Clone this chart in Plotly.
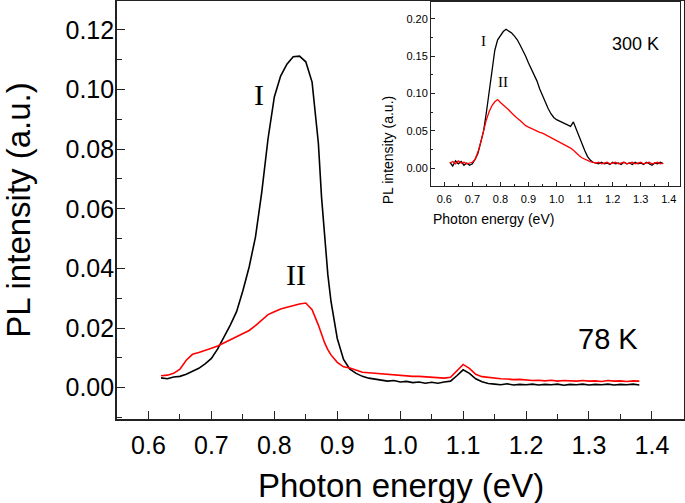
import plotly.graph_objects as go

# 78 K spectra (main panel)
energy_78 = [0.62, 0.63, 0.64, 0.65, 0.66, 0.67, 0.68, 0.69, 0.70, 0.71, 0.72, 0.73, 0.74,
             0.75, 0.76, 0.77, 0.78, 0.79, 0.80, 0.81, 0.82, 0.83, 0.84, 0.85, 0.86, 0.87,
             0.875, 0.88, 0.885, 0.89, 0.90, 0.91, 0.92, 0.93, 0.94, 0.95, 0.96, 0.97, 0.98,
             0.99, 1.00, 1.01, 1.02, 1.03, 1.04, 1.05, 1.06, 1.07, 1.08, 1.09, 1.10, 1.11,
             1.12, 1.13, 1.14, 1.15, 1.16, 1.17, 1.18, 1.19, 1.20, 1.21, 1.22, 1.23, 1.24,
             1.25, 1.26, 1.27, 1.28, 1.29, 1.30, 1.31, 1.32, 1.33, 1.34, 1.35, 1.36, 1.37, 1.38]
pl_78_I = [0.0033, 0.0030, 0.0036, 0.0038, 0.0045, 0.0055, 0.0065, 0.0080, 0.0098, 0.0130,
           0.0168, 0.0210, 0.0255, 0.0325, 0.0405, 0.0505, 0.0655, 0.0835, 0.0975, 0.1045,
           0.1085, 0.1110, 0.1112, 0.1093, 0.1025, 0.0820, 0.0640, 0.0500, 0.0380, 0.0290,
           0.0165, 0.0095, 0.0062, 0.0048, 0.0038, 0.0032, 0.0028, 0.0026, 0.0022, 0.0024,
           0.0019, 0.0021, 0.0017, 0.0019, 0.0015, 0.0018, 0.0015, 0.0019, 0.0022, 0.0040,
           0.0060, 0.0048, 0.0030, 0.0020, 0.0014, 0.0012, 0.0010, 0.0013, 0.0009, 0.0011,
           0.0010, 0.0012, 0.0009, 0.0011, 0.0010, 0.0012, 0.0008, 0.0011, 0.0010, 0.0012,
           0.0009, 0.0011, 0.0010, 0.0012, 0.0009, 0.0011, 0.0010, 0.0012, 0.0009]
pl_78_II = [0.0040, 0.0042, 0.0048, 0.0062, 0.0092, 0.0112, 0.0118, 0.0124, 0.0132, 0.0140,
            0.0150, 0.0160, 0.0170, 0.0180, 0.0192, 0.0208, 0.0228, 0.0245, 0.0255, 0.0264,
            0.0270, 0.0276, 0.0281, 0.0284, 0.0262, 0.0210, 0.0180, 0.0150, 0.0128, 0.0110,
            0.0085, 0.0070, 0.0066, 0.0058, 0.0052, 0.0050, 0.0048, 0.0046, 0.0045, 0.0043,
            0.0042, 0.0040, 0.0038, 0.0038, 0.0037, 0.0035, 0.0033, 0.0032, 0.0035, 0.0058,
            0.0078, 0.0065, 0.0045, 0.0037, 0.0034, 0.0031, 0.0030, 0.0029, 0.0027, 0.0028,
            0.0026, 0.0024, 0.0025, 0.0023, 0.0025, 0.0022, 0.0024, 0.0023, 0.0022, 0.0024,
            0.0022, 0.0023, 0.0021, 0.0024, 0.0022, 0.0023, 0.0021, 0.0023, 0.0022]

# 300 K spectra (inset)
energy_300 = [0.62, 0.63, 0.64, 0.65, 0.66, 0.67, 0.68, 0.69, 0.70, 0.71, 0.72, 0.73, 0.74,
              0.75, 0.76, 0.77, 0.78, 0.79, 0.80, 0.81, 0.82, 0.83, 0.84, 0.85, 0.86, 0.87,
              0.88, 0.89, 0.90, 0.91, 0.92, 0.93, 0.94, 0.95, 0.96, 0.97, 0.98, 0.99, 1.00,
              1.01, 1.02, 1.03, 1.04, 1.05, 1.06, 1.07, 1.08, 1.09, 1.10, 1.11, 1.12, 1.13,
              1.14, 1.15, 1.16, 1.17, 1.18, 1.19, 1.20, 1.21, 1.22, 1.23, 1.24, 1.25, 1.26,
              1.27, 1.28, 1.29, 1.30, 1.31, 1.32, 1.33, 1.34, 1.35, 1.36, 1.37, 1.38]
pl_300_I = [0.008, 0.003, 0.010, 0.006, 0.009, 0.004, 0.007, 0.004, 0.006, 0.012, 0.020,
            0.034, 0.050, 0.075, 0.102, 0.132, 0.158, 0.172, 0.178, 0.183, 0.186, 0.184,
            0.181, 0.177, 0.172, 0.165, 0.158, 0.150, 0.141, 0.133, 0.124, 0.117, 0.106,
            0.097, 0.088, 0.080, 0.073, 0.068, 0.065, 0.063, 0.061, 0.059, 0.057, 0.056,
            0.062, 0.052, 0.044, 0.034, 0.024, 0.016, 0.011, 0.008, 0.007, 0.006, 0.008,
            0.006, 0.007, 0.005, 0.008, 0.006, 0.007, 0.005, 0.008, 0.006, 0.007, 0.005,
            0.008, 0.006, 0.007, 0.005, 0.008, 0.006, 0.004, 0.007, 0.006, 0.008, 0.006]
pl_300_II = [0.007, 0.009, 0.006, 0.010, 0.007, 0.008, 0.006, 0.007, 0.008, 0.012, 0.022,
             0.035, 0.051, 0.065, 0.076, 0.084, 0.089, 0.092, 0.088, 0.085, 0.081, 0.078,
             0.074, 0.070, 0.067, 0.064, 0.060, 0.057, 0.055, 0.053, 0.051, 0.049, 0.048,
             0.047, 0.045, 0.043, 0.041, 0.039, 0.038, 0.036, 0.034, 0.032, 0.029, 0.027,
             0.024, 0.020, 0.017, 0.014, 0.012, 0.010, 0.009, 0.008, 0.007, 0.008, 0.006,
             0.007, 0.008, 0.006, 0.007, 0.008, 0.006, 0.007, 0.008, 0.006, 0.007, 0.008,
             0.006, 0.007, 0.008, 0.006, 0.007, 0.008, 0.006, 0.007, 0.008, 0.006, 0.007]

sans = "Liberation Sans, Arial, sans-serif"
serif = "Liberation Serif, Times New Roman, serif"

fig = go.Figure()

# main panel
fig.add_trace(go.Scatter(x=energy_78, y=pl_78_I, mode="lines",
                         line=dict(color="black", width=1.6), xaxis="x", yaxis="y"))
fig.add_trace(go.Scatter(x=energy_78, y=pl_78_II, mode="lines",
                         line=dict(color="#ff0000", width=1.6), xaxis="x", yaxis="y"))
# inset
fig.add_trace(go.Scatter(x=energy_300, y=pl_300_I, mode="lines",
                         line=dict(color="black", width=1.3), xaxis="x2", yaxis="y2"))
fig.add_trace(go.Scatter(x=energy_300, y=pl_300_II, mode="lines",
                         line=dict(color="#ff0000", width=1.3), xaxis="x2", yaxis="y2"))

axis_common = dict(showline=True, mirror=True, linecolor="#222222", showgrid=False,
                   zeroline=False, ticks="inside", tickcolor="#222222", automargin=False)

fig.update_layout(
    width=685, height=503,
    margin=dict(l=117, r=1, t=1, b=84),
    paper_bgcolor="white", plot_bgcolor="white",
    showlegend=False,
    font=dict(family=sans, color="black"),
    xaxis=dict(**axis_common, domain=[0, 1], range=[0.55, 1.451], dtick=0.1, tick0=0.6,
               tickformat=".1f", ticklen=8, linewidth=1.6, tickwidth=1.4,
               minor=dict(ticks="inside", ticklen=5, dtick=0.05, tick0=0.6, tickcolor="#222222"),
               tickfont=dict(size=25), ticklabelstandoff=3),
    yaxis=dict(**axis_common, domain=[0, 1], range=[-0.0105, 0.1297], dtick=0.02, tick0=0,
               tickformat=".2f", ticklen=8, linewidth=1.6, tickwidth=1.4,
               minor=dict(ticks="inside", ticklen=5, dtick=0.01, tick0=0, tickcolor="#222222"),
               tickfont=dict(size=25), ticklabelstandoff=-4),
    xaxis2=dict(**axis_common, anchor="y2", domain=[0.554, 0.993], range=[0.553, 1.44],
                dtick=0.1, tick0=0.6, tickformat=".1f", ticklen=4, linewidth=1.2,
                minor=dict(ticks="inside", ticklen=2, dtick=0.05, tick0=0.6, tickcolor="#222222"),
                tickfont=dict(size=11), ticklabelstandoff=3),
    yaxis2=dict(**axis_common, anchor="x2", domain=[0.557, 0.998], range=[-0.024, 0.2228],
                dtick=0.05, tick0=0, tickformat=".2f", ticklen=4, linewidth=1.2,
                minor=dict(ticks="inside", ticklen=2, dtick=0.025, tick0=0, tickcolor="#222222"),
                tickfont=dict(size=11)),
)

# axis titles
fig.add_annotation(x=0.5, y=-0.158, xref="paper", yref="paper", text="Photon energy (eV)",
                   showarrow=False, font=dict(size=33), yanchor="middle")
fig.add_annotation(x=-0.175, y=0.5, xref="paper", yref="paper", text="PL intensity (a.u.)",
                   showarrow=False, font=dict(size=33), textangle=-90, xanchor="center")
fig.add_annotation(x=0.7735, y=0.478, xref="paper", yref="paper", text="Photon energy (eV)",
                   showarrow=False, font=dict(size=14), yanchor="middle")
fig.add_annotation(x=0.478, y=0.777, xref="paper", yref="paper", text="PL intensity (a.u.)",
                   showarrow=False, font=dict(size=14), textangle=-90, xanchor="center")

# curve labels and temperatures
fig.add_annotation(x=0.775, y=0.0985, xref="x", yref="y", text="I", showarrow=False,
                   font=dict(family=serif, size=30))
fig.add_annotation(x=0.835, y=0.038, xref="x", yref="y", text="II", showarrow=False,
                   font=dict(family=serif, size=30))
fig.add_annotation(x=1.33, y=0.0165, xref="x", yref="y", text="78 K", showarrow=False,
                   font=dict(size=29))
fig.add_annotation(x=0.74, y=0.171, xref="x2", yref="y2", text="I", showarrow=False,
                   font=dict(family=serif, size=15))
fig.add_annotation(x=0.81, y=0.115, xref="x2", yref="y2", text="II", showarrow=False,
                   font=dict(family=serif, size=15))
fig.add_annotation(x=1.28, y=0.167, xref="x2", yref="y2", text="300 K", showarrow=False,
                   font=dict(size=18))

fig.write_html("out.html", config={"displayModeBar": False},
               post_script="document.body.style.margin='0';")
